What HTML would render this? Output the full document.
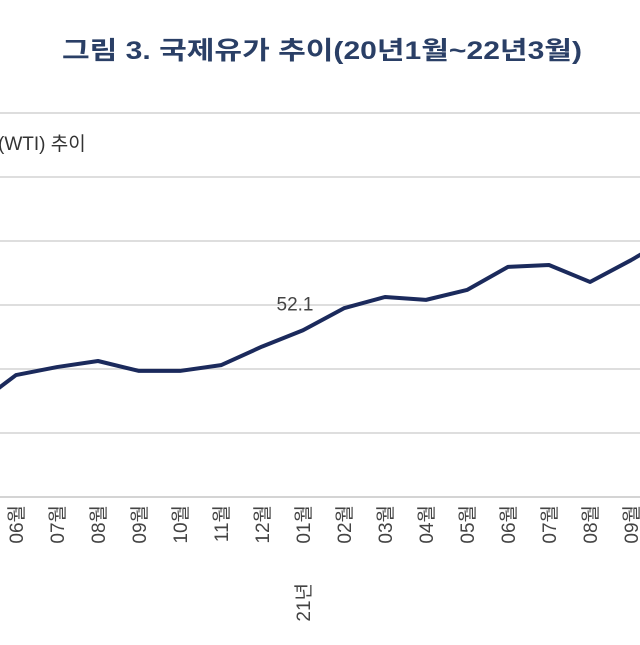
<!DOCTYPE html>
<html><head><meta charset="utf-8"><style>
body{margin:0;background:#fff;width:640px;height:640px;overflow:hidden;font-family:"Liberation Sans","Noto Sans CJK KR",sans-serif}
</style></head><body>
<svg width="640" height="640">
<text x="322" y="59" text-anchor="middle" font-size="25" font-weight="bold" fill="#2a3f66" textLength="520" lengthAdjust="spacingAndGlyphs" font-family="Liberation Sans, Noto Sans CJK KR, sans-serif">그림 3. 국제유가 추이(20년1월~22년3월)</text>
<text x="-2" y="150" font-size="19" fill="#333" font-family="Liberation Sans, Noto Sans CJK KR, sans-serif">(WTI) 추이</text>
<line x1="0" x2="640" y1="113" y2="113" stroke="#ddd" stroke-width="2"/>
<g id="grid"></g><g id="xlab"></g>
<path id="line" fill="none" stroke="#1b2a5c" stroke-width="4" stroke-linejoin="round"/>
<text id="lbl" font-size="19" fill="#444" text-anchor="middle"></text>
</svg>
<script>
const months=["05","06","07","08","09","10","11","12","01","02","03","04","05","06","07","08","09","10"];
const values=[28.5,38.1,40.6,42.5,39.4,39.4,41.2,47.0,52.1,59.0,62.5,61.6,64.7,71.9,72.5,67.2,74.0,81.5];
const gridTicks=[0,20,40,60,80,100];
const labelIndex=8;
const NS="http://www.w3.org/2000/svg";
const X=i=>-25+i*41, Y=v=>497-v*3.2;
const g=document.getElementById('grid'), xl=document.getElementById('xlab');
gridTicks.forEach(t=>{const l=document.createElementNS(NS,'line');
l.setAttribute('x1',0);l.setAttribute('x2',640);l.setAttribute('y1',Y(t));l.setAttribute('y2',Y(t));
l.setAttribute('stroke',t===0?'#d4d4d4':'#dedede');l.setAttribute('stroke-width',2);


g.appendChild(l);});
months.forEach((m,i)=>{const x=X(i);if(x<0||x>650)return;
const t=document.createElementNS(NS,'text');t.textContent=m+'월';
t.setAttribute('transform',`translate(${x+7},505) rotate(-90)`);t.setAttribute('text-anchor','end');
t.setAttribute('font-size','19');t.setAttribute('fill','#444');


xl.appendChild(t);
if(m==="01"){const y=document.createElementNS(NS,'text');y.textContent='21년';
y.setAttribute('transform',`translate(${x+7},583) rotate(-90)`);y.setAttribute('text-anchor','end');
y.setAttribute('font-size','19');y.setAttribute('fill','#444');


xl.appendChild(y);}});
document.getElementById('line').setAttribute('d',values.map((v,i)=>(i?'L':'M')+X(i)+','+Y(v)).join(''));
const lb=document.getElementById('lbl');lb.textContent=values[labelIndex].toFixed(1);
lb.setAttribute('x',X(labelIndex)-8);lb.setAttribute('y',Y(values[labelIndex])-20);
</script>
</body></html>
